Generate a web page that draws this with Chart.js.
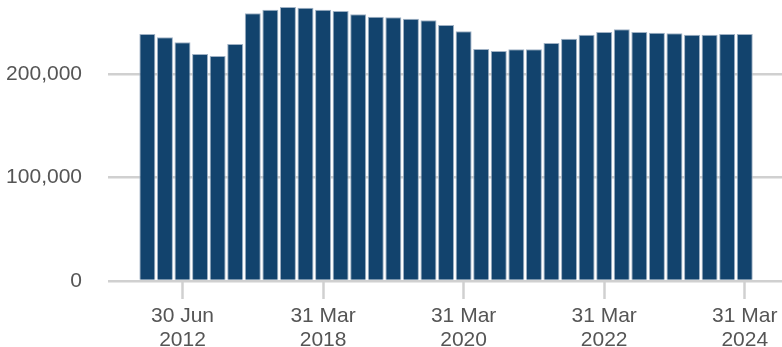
<!DOCTYPE html>
<html>
<head>
<meta charset="utf-8">
<script src="https://cdn.jsdelivr.net/npm/chart.js@4/dist/chart.umd.min.js"></script>
<style>
  html, body { margin: 0; padding: 0; background: #ffffff; }
  #wrap { width: 782px; height: 347px; }
</style>
</head>
<body>
<div id="wrap"><canvas id="c" width="782" height="347"></canvas></div>
<script>
// Period labels (one per bar)
const periods = [
  ["30 Jun","2010"],["30 Jun","2011"],["30 Jun","2012"],["30 Jun","2013"],["30 Jun","2014"],
  ["30 Jun","2015"],["30 Jun","2016"],["30 Jun","2017"],["30 Sep","2017"],["31 Dec","2017"],
  ["31 Mar","2018"],["30 Jun","2018"],["30 Sep","2018"],["31 Dec","2018"],
  ["31 Mar","2019"],["30 Jun","2019"],["30 Sep","2019"],["31 Dec","2019"],
  ["31 Mar","2020"],["30 Jun","2020"],["30 Sep","2020"],["31 Dec","2020"],
  ["31 Mar","2021"],["30 Jun","2021"],["30 Sep","2021"],["31 Dec","2021"],
  ["31 Mar","2022"],["30 Jun","2022"],["30 Sep","2022"],["31 Dec","2022"],
  ["31 Mar","2023"],["30 Jun","2023"],["30 Sep","2023"],["31 Dec","2023"],
  ["31 Mar","2024"]
];

// Values
const values = [
  239100, 235900, 231100, 219700, 217800, 229400, 259200, 262600, 265200, 264600,
  262600, 261400, 258200, 255900, 255300, 253900, 252400, 247800, 241700, 224600,
  222700, 224300, 224300, 230400, 234500, 238400, 241000, 243700, 241000, 240400,
  239800, 238400, 238400, 239100, 239100
];

// Which periods carry an x-axis tick label
const xTickIndices = [2, 10, 18, 26, 34];

// Y-axis tick values
const yTickValues = [0, 100000, 200000];

const points = values.map((v, i) => ({ x: i, y: v }));

const FONT = { family: "'Liberation Sans', Arial, Helvetica, sans-serif", size: 21, lineHeight: 1.143 };
const TEXT = '#555555';
const GRID = '#d0d0d0';

new Chart(document.getElementById('c'), {
  type: 'bar',
  data: {
    datasets: [{
      data: points,
      backgroundColor: '#12436D',
      borderColor: '#9fb1c4',
      borderWidth: 1,
      barPercentage: 0.91,
      categoryPercentage: 1.0
    }]
  },
  options: {
    responsive: false,
    animation: false,
    events: [],
    layout: { padding: 0 },
    plugins: { legend: { display: false }, tooltip: { enabled: false } },
    scales: {
      x: {
        type: 'linear',
        min: -2.24,
        max: 36.12,
        offset: false,
        afterBuildTicks: (s) => { s.ticks = xTickIndices.map(v => ({ value: v })); },
        afterFit: (s) => { s.height = 66; s.paddingLeft = 0; s.paddingRight = 0; },
        border: { display: false },
        grid: {
          offset: false,
          drawOnChartArea: false,
          drawTicks: true,
          tickLength: 18,
          tickWidth: 2.5,
          tickColor: GRID
        },
        ticks: {
          autoSkip: false,
          maxRotation: 0,
          minRotation: 0,
          padding: 5,
          color: TEXT,
          font: FONT,
          callback: (v) => periods[v]
        }
      },
      y: {
        type: 'linear',
        min: 0,
        max: 272000,
        afterBuildTicks: (s) => { s.ticks = yTickValues.map(v => ({ value: v })); },
        afterFit: (s) => { s.width = 108; s.paddingTop = 0; s.paddingBottom = 0; },
        border: { display: false },
        grid: {
          color: GRID,
          lineWidth: 2.5,
          drawTicks: false
        },
        ticks: {
          padding: 26,
          color: TEXT,
          font: FONT,
          callback: (v) => v.toLocaleString('en-GB')
        }
      }
    }
  }
});
</script>
</body>
</html>
